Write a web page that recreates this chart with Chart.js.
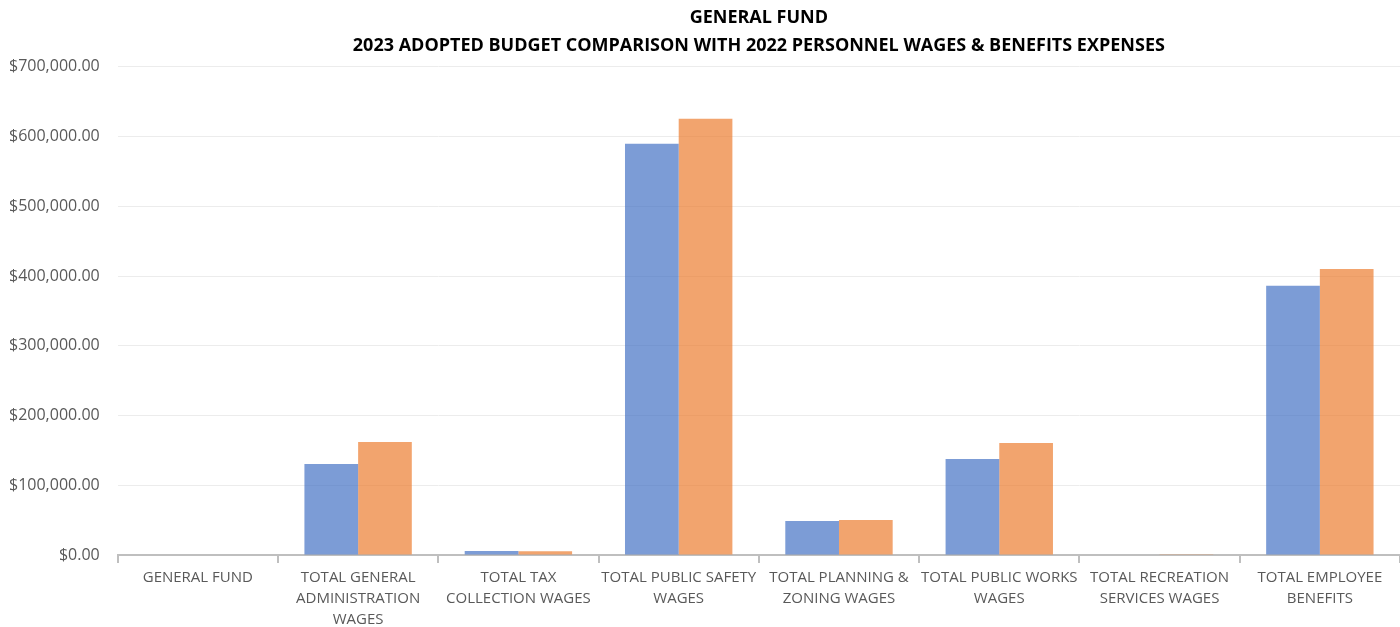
<!DOCTYPE html>
<html>
<head>
<meta charset="utf-8">
<script src="https://cdn.jsdelivr.net/npm/chart.js@4"></script>
<style>
  html, body { margin: 0; padding: 0; background: #fff; }
  #wrap { width: 1400px; height: 627px; }
</style>
</head>
<body>
<div id="wrap"><canvas id="myChart"></canvas></div>
<script>
const labels = [
    'GENERAL FUND',
    ['TOTAL GENERAL', 'ADMINISTRATION', 'WAGES'],
    ['TOTAL TAX', 'COLLECTION WAGES'],
    ['TOTAL PUBLIC SAFETY', 'WAGES'],
    ['TOTAL PLANNING &', 'ZONING WAGES'],
    ['TOTAL PUBLIC WORKS', 'WAGES'],
    ['TOTAL RECREATION', 'SERVICES WAGES'],
    ['TOTAL EMPLOYEE', 'BENEFITS'],
];
const actual2022 = [0, 130500, 5700, 589500, 48800, 137500, 0, 386000];
const budget2023 = [0, 162000, 5300, 625500, 50200, 160500, 1000, 410000];
const titleLines = ['GENERAL FUND', '2023 ADOPTED BUDGET COMPARISON WITH 2022 PERSONNEL WAGES & BENEFITS EXPENSES'];

const fontFamily = '"Open Sans", sans-serif';

let dataChart = {
    labels: labels,
    datasets: [{
        label: '2022 Actual',
        backgroundColor: 'rgba(68,114,196,0.7)',
        data: actual2022,
    },
        {
            label: '2023 Adopted Budget',
            backgroundColor: 'rgba(237,125,49,0.7)',
            data: budget2023,
        }]
};

const config = {
    type: 'bar',
    data: dataChart,
    options: {
        responsive: true,
        maintainAspectRatio: false,
        animation: false,
        layout: { padding: { left: -9, right: 0, top: 4, bottom: -7 } },
        datasets: { bar: { barPercentage: 1.0, categoryPercentage: 0.67 } },
        plugins: {
            legend: { display: false },
            tooltip: { enabled: false },
            title: {
                display: true,
                text: titleLines,
                fullSize: false,
                color: '#000',
                font: { family: fontFamily, size: 18, weight: 'bold', lineHeight: 1.55 },
                padding: { top: 0, bottom: 7 }
            }
        },
        scales: {
            x: {
                grid: { offset: true, drawOnChartArea: false, drawTicks: true, tickLength: 8, color: '#bfbfbf', lineWidth: 2 },
                border: { display: true, color: '#bfbfbf', width: 2 },
                ticks: { color: '#595959', font: { family: fontFamily, size: 15, lineHeight: 1.4 }, maxRotation: 0, autoSkip: false, padding: 4 }
            },
            y: {
                min: 0,
                max: 700000,
                ticks: {
                    stepSize: 100000,
                    color: '#595959',
                    padding: 18,
                    font: { family: fontFamily, size: 16 },
                    callback: v => '$' + v.toLocaleString('en-US', { minimumFractionDigits: 2, maximumFractionDigits: 2 })
                },
                grid: { color: '#ececec', lineWidth: 1, drawTicks: false },
                border: { display: false }
            }
        }
    }
};

const myChart = new Chart(
document.getElementById('myChart'),
config
);
</script>
</body>
</html>
